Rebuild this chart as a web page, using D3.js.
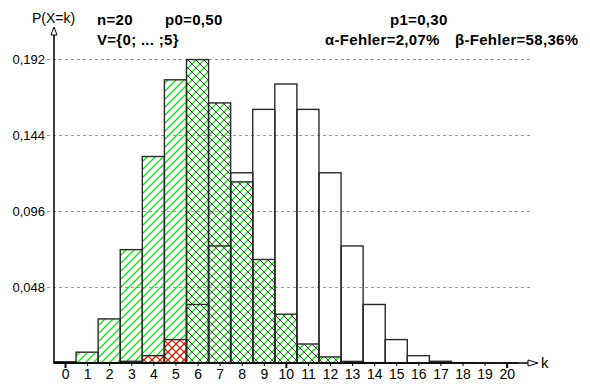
<!DOCTYPE html>
<html>
<head>
<meta charset="utf-8">
<script src="https://cdn.jsdelivr.net/npm/d3@7"></script>
<style>
  body { margin: 0; background: #fff; }
  svg { display: block; font-family: "Liberation Sans", Arial, sans-serif; }
  .tick text { font-size: 13px; fill: #000; }
  .head { font-size: 15px; font-weight: bold; letter-spacing: 0.3px; }
</style>
</head>
<body>
<div id="chart"></div>
<script>
// binomial n=20, p0=0.50 (H0) and p1=0.30 (H1), acceptance region V = {0..5}
const ks = d3.range(0, 21);
const p0Probs = [0.000001, 0.000019, 0.000181, 0.001087, 0.004621, 0.014786, 0.036964, 0.073929,
                 0.120134, 0.160179, 0.176197, 0.160179, 0.120134, 0.073929, 0.036964, 0.014786,
                 0.004621, 0.001087, 0.000181, 0.000019, 0.000001];
const p1Probs = [0.000798, 0.006839, 0.027846, 0.071604, 0.130421, 0.178863, 0.191639, 0.164262,
                 0.114397, 0.065370, 0.030817, 0.012007, 0.003859, 0.001018, 0.000218, 0.000037,
                 0.000005, 0.000001, 0, 0, 0];
const acceptMax = 5;
const yTicks = [0.048, 0.096, 0.144, 0.192];

const width = 590, height = 390;
const svg = d3.select('#chart').append('svg')
    .attr('width', width)
    .attr('height', height);

const x = d3.scaleLinear().domain([-0.5, 20.5]).range([54, 517.7]);
const y = d3.scaleLinear().domain([0, 0.192]).range([363, 59]);
const bw = x(1) - x(0);

// hatch patterns
const defs = svg.append('defs');
function hatch(id, dirs, color, sw) {
    const p = defs.append('pattern')
        .attr('id', id)
        .attr('patternUnits', 'userSpaceOnUse')
        .attr('width', 8).attr('height', 8);
    dirs.forEach(function(dir) {
        const d = dir === '/'
            ? 'M0,8 L8,0 M-2,2 L2,-2 M6,10 L10,6'
            : 'M0,0 L8,8 M-2,6 L2,10 M6,-2 L10,2';
        p.append('path').attr('d', d)
            .style('stroke', color).style('stroke-width', sw).style('fill', 'none');
    });
}
hatch('hGreen', ['/'], '#10e010', 1.3);
hatch('hBlack', ['\\'], '#333', 1.0);
hatch('hRed', ['/', '\\'], '#ff0000', 1.1);

// grid lines
svg.append('g').selectAll('line')
    .data(yTicks)
    .join('line')
    .attr('x1', 47).attr('x2', 530)
    .attr('y1', d => y(d) + 0.5).attr('y2', d => y(d) + 0.5)
    .attr('stroke', '#9a9a9a')
    .attr('stroke-dasharray', '3,3');

const p0Data = ks.map((k, i) => ({ k: k, v: p0Probs[i] }));
const p1Data = ks.map((k, i) => ({ k: k, v: p1Probs[i] }));

function bars(data, fill, stroke) {
    svg.append('g').selectAll('rect')
        .data(data)
        .join('rect')
        .attr('x', d => x(d.k) - bw / 2)
        .attr('width', bw)
        .attr('y', d => y(d.v))
        .attr('height', d => y(0) - y(d.v))
        .style('fill', fill)
        .style('stroke', stroke)
        .style('stroke-width', 1.4);
}

bars(p1Data, 'url(#hGreen)', 'none');
bars(p1Data.filter(d => d.k > acceptMax), 'url(#hBlack)', 'none');
bars(p0Data.filter(d => d.k <= acceptMax), 'url(#hRed)', 'none');
bars(p0Data, 'none', '#2a2a2a');
bars(p1Data, 'none', '#2a2a2a');

// x axis
const xAxis = d3.axisBottom(x).tickValues(ks).tickSize(3).tickPadding(3);
const gx = svg.append('g')
    .attr('transform', `translate(0, ${y(0)})`)
    .call(xAxis);
gx.select('.domain').remove();
gx.selectAll('.tick line').attr('stroke', '#000');
gx.selectAll('.tick text').style('font-size', '14px');
gx.selectAll('.tick').filter(d => d % 10 === 0).select('line')
    .attr('y2', 5).attr('stroke-width', 2);

svg.append('line')
    .attr('x1', 54).attr('x2', 528)
    .attr('y1', y(0)).attr('y2', y(0))
    .attr('stroke', '#000').attr('stroke-width', 1.5);
svg.append('path')
    .attr('d', `M528,${y(0) - 3} L538,${y(0)} L528,${y(0) + 3} Z`)
    .attr('fill', '#fff').attr('stroke', '#000');
svg.append('text')
    .attr('x', 541).attr('y', y(0) + 5)
    .style('font-size', '15px')
    .text('k');

// y axis
const yAxis = d3.axisLeft(y).tickValues(yTicks).tickSize(0).tickPadding(9)
    .tickFormat(d => d3.format('.3f')(d).replace('.', ','));
const gy = svg.append('g')
    .attr('transform', 'translate(54, 0)')
    .call(yAxis);
gy.select('.domain').remove();

svg.append('line')
    .attr('x1', 54).attr('x2', 54)
    .attr('y1', y(0)).attr('y2', 35)
    .attr('stroke', '#000').attr('stroke-width', 1.5);
svg.append('path')
    .attr('d', 'M51,35 L54,27 L57,35 Z')
    .attr('fill', '#fff').attr('stroke', '#000');
svg.append('text')
    .attr('x', 32).attr('y', 23)
    .style('font-size', '14px')
    .text('P(X=k)');

// header
const head = [
    { t: 'n=20', x: 97, y: 25 },
    { t: 'p0=0,50', x: 165, y: 25 },
    { t: 'V={0; ... ;5}', x: 97, y: 45 },
    { t: 'p1=0,30', x: 390, y: 25 },
    { t: 'α-Fehler=2,07%', x: 325, y: 45 },
    { t: 'β-Fehler=58,36%', x: 455, y: 45 }
];
svg.append('g').selectAll('text')
    .data(head)
    .join('text')
    .attr('class', 'head')
    .attr('x', d => d.x).attr('y', d => d.y)
    .text(d => d.t);
</script>
</body>
</html>
